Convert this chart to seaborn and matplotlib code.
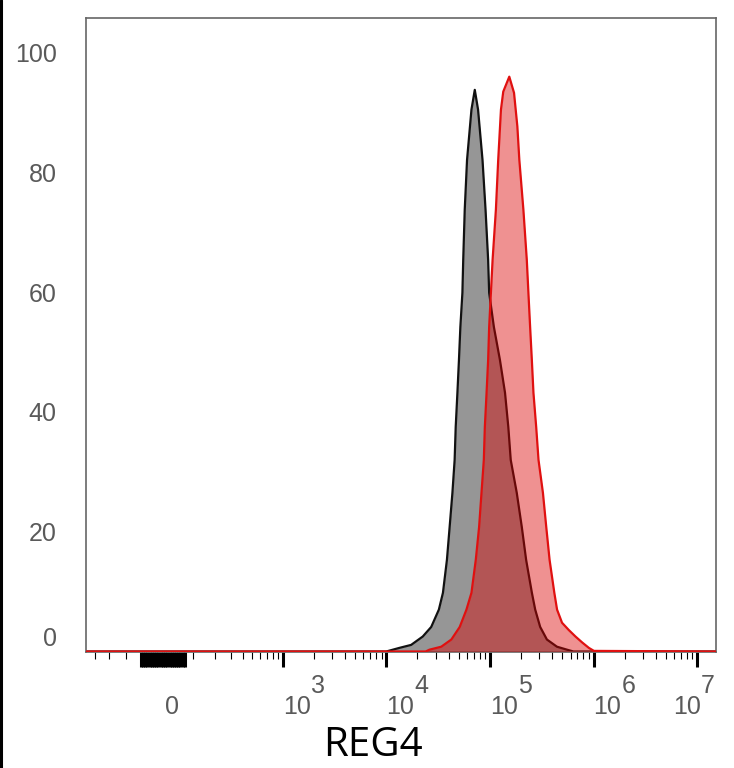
import pandas as pd
import seaborn as sns
import matplotlib.pyplot as plt
from matplotlib.ticker import NullFormatter
from matplotlib.transforms import offset_copy
from matplotlib.lines import Line2D

# isotype control histogram (black / grey)
isotype_x = [-374, 10000, 13370, 17380, 22500, 27160, 32200, 35240, 38500, 40900,
             43500, 45700, 46800, 48600, 50300, 51900, 54300, 55300, 57200, 60200,
             66400, 71500, 76900, 84900, 90800, 96200, 98400, 109300, 125000, 140000,
             150600, 158900, 181700, 203200, 223800, 254300, 273700, 305700, 355000,
             443800, 555400, 640000, 1.52e7]
isotype_y = [0, 0, 0.6, 1.1, 2.5, 4.1, 7.0, 9.8, 15.3, 20.8,
             26.5, 32.0, 37.5, 43.2, 48.7, 54.2, 59.9, 65.4, 73.8, 82.1,
             90.5, 93.8, 90.5, 82.1, 73.8, 65.4, 59.9, 54.2, 48.7, 43.2,
             37.5, 32.0, 26.5, 20.8, 15.3, 9.8, 7.0, 4.1, 2.0,
             0.8, 0.3, 0, 0]

# REG4 stained histogram (red)
reg4_x = [-374, 24000, 26100, 33950, 42480, 51170, 59430, 66400, 73100, 78700,
          83000, 87400, 89400, 92900, 96200, 98400, 102300, 106200, 114300, 120300,
          127900, 134600, 153900, 171000, 184100, 192400, 210500, 227100, 235400, 244500,
          254000, 263300, 279800, 294600, 325000, 349900, 376800, 418700, 444800, 496800,
          576300, 669800, 778500, 902300, 1009000, 1.52e7]
reg4_y = [0, 0, 0.3, 0.8, 2.0, 4.1, 7.0, 9.8, 15.3, 20.8,
          26.5, 32.0, 37.5, 43.2, 48.7, 54.2, 59.9, 65.4, 73.8, 82.1,
          90.5, 93.5, 96.0, 93.3, 87.7, 82.1, 73.8, 65.4, 59.9, 54.2,
          48.7, 43.2, 37.5, 32.0, 26.5, 20.8, 15.3, 9.8, 7.0, 4.8,
          3.6, 2.5, 1.5, 0.6, 0.1, 0]

y_ticks = [0, 20, 40, 60, 80, 100]
decades = [1e3, 1e4, 1e5, 1e6, 1e7]
decade_exp = ["3", "4", "5", "6", "7"]

# tick marks of the biexponential axis
zero_block = list(range(-70, 71, 7))
minor_ticks = [-300, -210, -130, 100] + [m * 10 ** k for k in range(2, 7) for m in range(2, 10)]

sns.set_theme(style="white")
plt.rcParams["font.family"] = ["Liberation Sans", "DejaVu Sans"]

fig = plt.figure(figsize=(7.34, 7.68), dpi=100)
ax = fig.add_axes([86 / 734, 1 - 651.5 / 768, 630 / 734, 633.5 / 768])
ax.set_xscale("asinh", linear_width=140)

ctrl = pd.DataFrame({"x": isotype_x, "y": isotype_y})
stain = pd.DataFrame({"x": reg4_x, "y": reg4_y})

ax.fill_between(ctrl["x"], ctrl["y"], 0, color="#969696", linewidth=0, zorder=1)
sns.lineplot(data=ctrl, x="x", y="y", ax=ax, color="#111111", linewidth=1.6,
             estimator=None, sort=False, zorder=2)
ax.fill_between(stain["x"], stain["y"], 0, color="#db0000", alpha=0.43, linewidth=0, zorder=3)
sns.lineplot(data=stain, x="x", y="y", ax=ax, color="#e01010", linewidth=1.6,
             estimator=None, sort=False, zorder=4)

ax.set_xlim(-374, 1.52e7)
ax.set_ylim(0, 105.8)

# y axis
ax.set_yticks(y_ticks, labels=[str(v) for v in y_ticks])
ax.tick_params(axis="y", left=False, length=0, pad=21, labelsize=18, labelcolor="#5a5a5a")
ax.yaxis.get_major_ticks()[0].label1.set_verticalalignment("bottom")

# x axis ticks (labels drawn by hand)
major = zero_block + decades
ax.set_xticks(major, labels=[""] * len(major))
ax.set_xticks(minor_ticks, minor=True)
ax.xaxis.set_minor_formatter(NullFormatter())
ax.tick_params(axis="x", which="both", bottom=True, direction="out")
ax.tick_params(axis="x", which="major", length=10.8, width=2.2, color="black", pad=0)
ax.tick_params(axis="x", which="minor", length=5, width=0.8, color="black")

xt = ax.get_xaxis_transform()
lab_kw = dict(fontsize=18, color="#5a5a5a", ha="left", va="center")
ax.text(0, 0, "0", transform=offset_copy(xt, fig=fig, x=2, y=-55.5, units="dots"), **lab_kw)
for pos, e in zip(decades, decade_exp):
    dx = -24 if e == "7" else 0
    ax.text(pos, 0, "10", transform=offset_copy(xt, fig=fig, x=dx, y=-55.5, units="dots"), **lab_kw)
    ax.text(pos, 0, e, transform=offset_copy(xt, fig=fig, x=dx + 28, y=-34.5, units="dots"), **lab_kw)

for s in ax.spines.values():
    s.set_color("#666666")
    s.set_linewidth(1.2)

ax.set_xlabel("REG4", fontsize=29, family="Open Sans", color="black")
ax.xaxis.set_label_coords(0.4556, -0.149)
ax.xaxis.label.set_verticalalignment("center")
ax.set_ylabel("")

fig.add_artist(Line2D([1.5 / 734, 1.5 / 734], [0, 1], transform=fig.transFigure, color="black", linewidth=2.2))

fig.savefig("out.png", dpi=100)
